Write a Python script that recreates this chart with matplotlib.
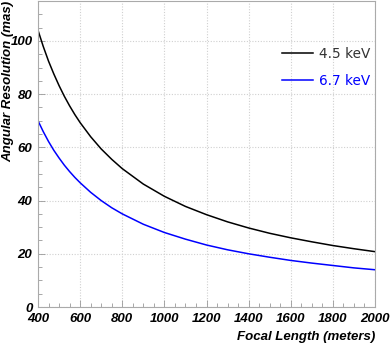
import matplotlib
matplotlib.use("Agg")
import matplotlib.pyplot as plt
from matplotlib.ticker import MultipleLocator
from matplotlib.font_manager import FontProperties

focal = [400, 425, 450, 475, 500, 525, 550, 575, 600, 650, 700, 750, 800, 900,
         1000, 1100, 1200, 1300, 1400, 1500, 1600, 1700, 1800, 1900, 2000]
res_45 = [104.0, 97.9, 92.4, 87.6, 83.2, 79.2, 75.6, 72.3, 69.3, 64.0, 59.4,
          55.5, 52.0, 46.2, 41.6, 37.8, 34.7, 32.0, 29.7, 27.7, 26.0, 24.5,
          23.1, 21.9, 20.8]
res_67 = [70.0, 65.9, 62.2, 58.9, 56.0, 53.3, 50.9, 48.7, 46.7, 43.1, 40.0,
          37.3, 35.0, 31.1, 28.0, 25.5, 23.3, 21.5, 20.0, 18.7, 17.5, 16.5,
          15.6, 14.7, 14.0]
labels = ["4.5 keV", "6.7 keV"]
colors = ["black", "#0000ff"]

fig = plt.figure(figsize=(3.9, 3.44), dpi=100)
ax = fig.add_axes([38/390, 1-307/344, (375-38)/390, (307-1)/344])

ax.plot(focal, res_45, color=colors[0], lw=1.1, label=labels[0])
ax.plot(focal, res_67, color=colors[1], lw=1.1, label=labels[1])

ax.set_xlim(400, 2000)
ax.set_ylim(0, 115)
ax.xaxis.set_major_locator(MultipleLocator(200))
ax.xaxis.set_minor_locator(MultipleLocator(50))
ax.yaxis.set_major_locator(MultipleLocator(20))
ax.yaxis.set_minor_locator(MultipleLocator(5))
ax.grid(True, which="major", ls=(0, (1, 1.5)), color="#d0d0d0", lw=0.8)
ax.tick_params(which="both", direction="in", top=False, right=False,
               color="#999999", width=0.6)
ax.tick_params(which="major", length=5)
ax.tick_params(which="minor", length=3)
ax.tick_params(axis="x", which="major", pad=4)
ax.tick_params(axis="y", which="major", pad=4)
for s in ax.spines.values():
    s.set_color("#aaaaaa")
    s.set_linewidth(0.8)

fp = dict(family="Liberation Sans", weight="bold", style="italic", size=9.5)
for lab in ax.get_xticklabels() + ax.get_yticklabels():
    lab.set_fontproperties(FontProperties(**fp))
ax.set_xlabel("Focal Length (meters)", fontdict=fp, loc="right")
ax.xaxis.set_label_coords(1.0, -0.08)
ax.set_ylabel("Angular Resolution (mas)", fontdict=fp)
ax.yaxis.label.set(rotation_mode="default", ha="left", va="top")
ax.yaxis.set_label_coords((2 - 38) / 337, 1.0)

leg = ax.legend(loc="upper right", bbox_to_anchor=(370/390, 1-47/344),
                bbox_transform=fig.transFigure, borderaxespad=0, borderpad=0,
                frameon=False, handlelength=2.3, handletextpad=0.4,
                labelspacing=0.95,
                prop=dict(family="DejaVu Sans", size=9.8))
for t, c in zip(leg.get_texts(), ["#333333", colors[1]]):
    t.set_color(c)

fig.savefig("out.png", dpi=100)
